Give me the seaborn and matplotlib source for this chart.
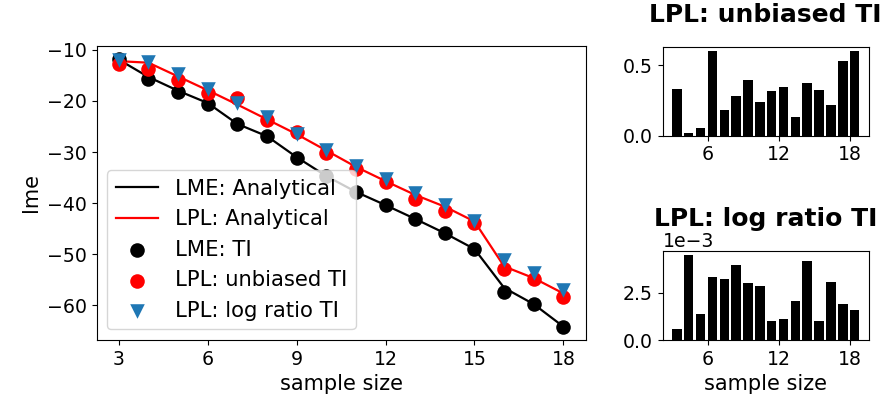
import numpy as np
import pandas as pd
import matplotlib
matplotlib.use("Agg")
import matplotlib.pyplot as plt
import seaborn as sns

sample_size = list(range(3, 19))

lme_analytical = [-11.9, -15.3, -18.0, -20.4, -24.5, -26.9, -31.0, -34.7, -37.8, -40.4, -43.1, -45.9, -49.0, -56.6, -59.8, -64.2]
lpl_analytical = [-12.2, -12.5, -15.2, -17.9, -20.7, -23.6, -26.5, -29.7, -32.9, -35.7, -38.4, -40.7, -43.6, -52.4, -54.7, -57.7]
lme_ti = [-11.8, -15.6, -18.2, -20.5, -24.6, -26.95, -31.15, -34.7, -37.8, -40.45, -43.1, -45.9, -49.0, -57.4, -59.8, -64.2]
lpl_unbiased_ti = [-12.8, -13.7, -15.9, -18.4, -19.4, -23.8, -26.0, -30.15, -33.3, -35.85, -39.2, -41.5, -43.9, -52.95, -54.9, -58.3]
lpl_logratio_ti = [-12.0, -12.35, -14.8, -17.6, -20.35, -23.2, -26.55, -29.6, -32.75, -35.25, -38.0, -40.45, -43.45, -51.1, -53.7, -57.1]

unbiased_err = [0.334, 0.017, 0.052, 0.602, 0.18, 0.28, 0.393, 0.237, 0.318, 0.346, 0.135, 0.372, 0.325, 0.216, 0.531, 0.602]
logratio_err = [0.56e-3, 4.47e-3, 1.37e-3, 3.33e-3, 3.22e-3, 3.94e-3, 3.01e-3, 2.87e-3, 1.02e-3, 1.09e-3, 2.04e-3, 4.15e-3, 1.02e-3, 3.05e-3, 1.92e-3, 1.60e-3]

main_ticks = [3, 6, 9, 12, 15, 18]
side_ticks = [6, 12, 18]

TICK = 13.6
LABEL = 15.0
LEG = 15.2
TITLE = 18.0

fig = plt.figure(figsize=(8.86, 4.11), dpi=100)
ax = fig.add_axes([0.109, 0.1727, 0.552, 0.716])
ax1 = fig.add_axes([0.748, 0.670, 0.2325, 0.2165])
ax2 = fig.add_axes([0.748, 0.1727, 0.2325, 0.2165])

sns.lineplot(x=sample_size, y=lme_analytical, color="black", lw=1.6, label="LME: Analytical", ax=ax)
sns.lineplot(x=sample_size, y=lpl_analytical, color="red", lw=1.6, label="LPL: Analytical", ax=ax)
sns.scatterplot(x=sample_size, y=lme_ti, color="black", s=110, linewidth=0, label="LME: TI", ax=ax, zorder=3)
sns.scatterplot(x=sample_size, y=lpl_unbiased_ti, color="red", s=110, linewidth=0, label="LPL: unbiased TI", ax=ax, zorder=3)
sns.scatterplot(x=sample_size, y=lpl_logratio_ti, color="tab:blue", marker="v", s=110, linewidth=0, label="LPL: log ratio TI", ax=ax, zorder=3)

ax.set_xticks(main_ticks)
ax.set_xlabel("sample size", fontsize=LABEL)
ax.set_ylabel("lme", fontsize=LABEL)
ax.tick_params(labelsize=TICK)
ax.legend(loc="lower left", fontsize=LEG, handlelength=2.0)

ax1.bar(sample_size, unbiased_err, width=0.8, align="edge", color="black")
ax1.set_xticks(side_ticks)
ax1.set_title("LPL: unbiased TI", fontsize=TITLE, fontweight="bold", pad=18)
ax1.tick_params(labelsize=TICK)

ax2.bar(sample_size, logratio_err, width=0.8, align="edge", color="black")
ax2.set_xticks(side_ticks)
ax2.set_title("LPL: log ratio TI", fontsize=TITLE, fontweight="bold", pad=18)
ax2.set_xlabel("sample size", fontsize=LABEL)
ax2.tick_params(labelsize=TICK)
ax2.ticklabel_format(axis="y", style="sci", scilimits=(0, 0))
ax2.yaxis.get_offset_text().set_fontsize(TICK)

fig.savefig("out.png", dpi=100)
